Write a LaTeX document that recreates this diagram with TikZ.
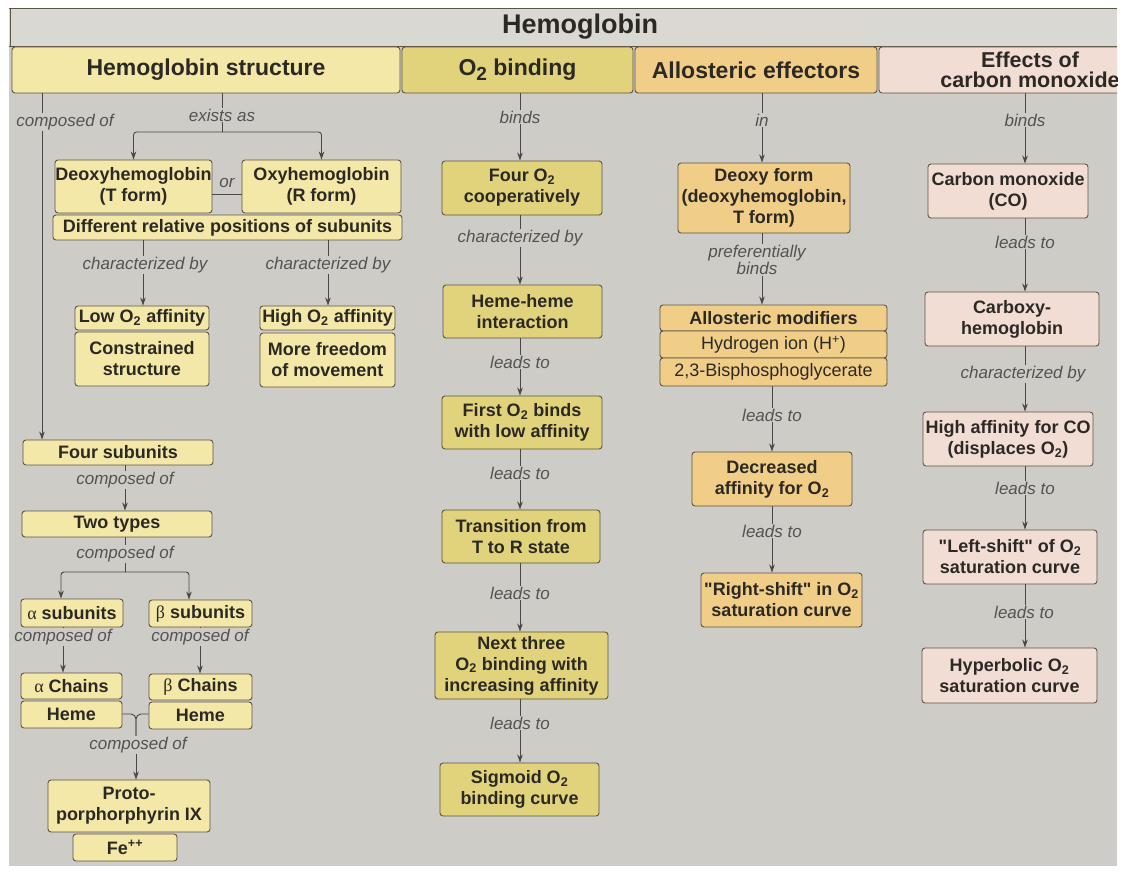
\documentclass[tikz,border=0pt]{standalone}
\usepackage{fontspec}
\setmainfont{Liberation Sans}[Ligatures=TeXOff]
\newfontfamily\grk{Liberation Serif}
\usetikzlibrary{arrows.meta}

\definecolor{panel}{HTML}{CECCC7}
\definecolor{titlebg}{HTML}{DAD8D3}
\definecolor{structc}{HTML}{F4E8A8}
\definecolor{bindc}{HTML}{E1D37B}
\definecolor{alloc}{HTML}{F1CE88}
\definecolor{coc}{HTML}{F2DDD4}
\definecolor{boxline}{HTML}{5C5444}
\definecolor{ink}{HTML}{2C2925}
\definecolor{linegray}{HTML}{4A4846}
\definecolor{lblgray}{HTML}{555350}

\tikzset{
  x=1pt, y=-1pt,
  box/.style={draw=boxline, line width=0.9pt, rounded corners=3pt, inner sep=0pt,
    align=center, text=ink, font=\bfseries\fontsize{18}{21}\selectfont},
  sbox/.style={box, fill=structc},
  obox/.style={box, fill=bindc},
  abox/.style={box, fill=alloc},
  cbox/.style={box, fill=coc},
  plaintext/.style={font=\fontsize{18}{21}\selectfont},
  hdr/.style={draw=boxline, line width=0.9pt, rounded corners=3pt, inner sep=0pt,
    align=center, text=ink, font=\bfseries\fontsize{23}{22}\selectfont, minimum height=46},
  lbl/.style={fill=panel, inner sep=1pt, text=lblgray, align=center,
    font=\itshape\fontsize{17}{17}\selectfont},
  link/.style={draw=linegray, line width=0.9pt},
  arr/.style={link, -{Stealth[length=8pt,width=5.5pt]}}
}

\newcommand{\Osub}{O\textsubscript{2}}

\begin{document}
\begin{tikzpicture}
\useasboundingbox (0,0) rectangle (1129,874);
\fill[white] (0,0) rectangle (1129,874);

\begin{scope}
\clip (9,8) rectangle (1117,866);
% panel and title band
\fill[panel] (9,8) rectangle (1117,866);
\fill[titlebg] (9,8) rectangle (1117,47);
\draw[boxline, line width=0.9pt] (9,8.5) -- (1117,8.5);
\draw[boxline, line width=0.9pt] (9,46.5) -- (1117,46.5);
\draw[boxline, line width=0.9pt] (10,8) -- (10,47);
\node[text=ink, font=\bfseries\fontsize{27}{27}\selectfont] (title) at (580,27) {Hemoglobin};

% column headers
\node[hdr, fill=structc, minimum width=388] (hstruct) at (206,70) {Hemoglobin structure};
\node[hdr, fill=bindc, minimum width=231] (hbind) at (517.5,70) {O{\raisebox{-0.22em}{\fontsize{19}{19}\selectfont 2}} binding};
\node[hdr, fill=alloc, minimum width=242] (hallo) at (756,70) {Allosteric effectors};
\node[hdr, fill=coc, minimum width=302, font=\bfseries\fontsize{21.5}{20.5}\selectfont] (hco) at (1030,70) {Effects of\\carbon monoxide};

% ---- hemoglobin structure ----
\node[sbox, minimum width=157, minimum height=53] (deoxy) at (133.5,186.5) {Deoxyhemoglobin\\(T form)};
\node[sbox, minimum width=159, minimum height=53] (oxy) at (321.5,186.5) {Oxyhemoglobin\\(R form)};
\node[sbox, minimum width=349, minimum height=25] (diffpos) at (227.5,227.5) {Different relative positions of subunits};
\node[sbox, minimum width=134, minimum height=24] (lowaff) at (142,318) {Low \Osub{} affinity};
\node[sbox, minimum width=134, minimum height=54] (constr) at (142,359) {Constrained\\structure};
\node[sbox, minimum width=135, minimum height=24] (highaff) at (327.5,318) {High \Osub{} affinity};
\node[sbox, minimum width=135, minimum height=54] (freedom) at (327.5,360) {More freedom\\of movement};
\node[sbox, minimum width=190, minimum height=25] (four) at (118,452.5) {Four subunits};
\node[sbox, minimum width=190, minimum height=26] (two) at (117,524) {Two types};
\node[sbox, minimum width=102, minimum height=28] (asub) at (72,613) {{\grk\mdseries α} subunits};
\node[sbox, minimum width=103, minimum height=27] (bsub) at (200.5,613.5) {{\grk\mdseries β} subunits};
\node[sbox, minimum width=101, minimum height=26] (achain) at (71.5,686) {{\grk\mdseries α} Chains};
\node[sbox, minimum width=101, minimum height=27] (lheme) at (71.5,714.5) {Heme};
\node[sbox, minimum width=103, minimum height=26] (bchain) at (200.5,687) {{\grk\mdseries β} Chains};
\node[sbox, minimum width=103, minimum height=27] (rheme) at (200.5,715.5) {Heme};
\node[sbox, minimum width=162, minimum height=52] (proto) at (129,806) {Proto-\\porphorphyrin IX};
\node[sbox, minimum width=104, minimum height=27] (fe) at (125,847.5) {Fe\textsuperscript{++}};

% ---- O2 binding ----
\node[obox, minimum width=160, minimum height=54] (fourO) at (522,188) {Four \Osub\\cooperatively};
\node[obox, minimum width=159, minimum height=53] (hemeheme) at (522.5,311.5) {Heme-heme\\interaction};
\node[obox, minimum width=160, minimum height=53] (firstO) at (522,422.5) {First \Osub{} binds\\with low affinity};
\node[obox, minimum width=158, minimum height=53] (trans) at (521,536.5) {Transition from\\T to R state};
\node[obox, minimum width=173, minimum height=67] (nextthree) at (521.5,665.5) {Next three\\\Osub{} binding with\\increasing affinity};
\node[obox, minimum width=159, minimum height=53] (sigmoid) at (519.5,789.5) {Sigmoid \Osub\\binding curve};

% ---- allosteric effectors ----
\node[abox, minimum width=172, minimum height=70] (deoxyf) at (764,198) {Deoxy form\\(deoxyhemoglobin,\\T form)};
\node[abox, minimum width=227, minimum height=26] (allomod) at (773.5,318) {Allosteric modifiers};
\node[abox, plaintext, minimum width=227, minimum height=27] (hion) at (773.5,344.5) {Hydrogen ion (H\textsuperscript{+})};
\node[abox, plaintext, minimum width=227, minimum height=28] (bpg) at (773.5,372) {2,3-Bisphosphoglycerate};
\node[abox, minimum width=160, minimum height=54] (decr) at (772,479) {Decreased\\affinity for \Osub};
\node[abox, minimum width=161, minimum height=54] (rshift) at (781.5,600) {"Right-shift" in \Osub\\saturation curve};

% ---- carbon monoxide ----
\node[cbox, minimum width=160, minimum height=54] (co) at (1008,191) {Carbon monoxide\\(CO)};
\node[cbox, minimum width=174, minimum height=54] (carboxy) at (1012,319) {Carboxy-\\hemoglobin};
\node[cbox, minimum width=170, minimum height=54] (highco) at (1008,439) {High affinity for CO\\(displaces \Osub)};
\node[cbox, minimum width=174, minimum height=54] (lshift) at (1010,557) {"Left-shift" of \Osub\\saturation curve};
\node[cbox, minimum width=175, minimum height=55] (hyper) at (1009.5,675.5) {Hyperbolic \Osub\\saturation curve};

% ---- connector guide positions ----
\coordinate (cL) at (42,0);
\coordinate (ex) at (222,132);
\coordinate (orln) at (0,194);
\coordinate (cA) at (143,0);
\coordinate (cB) at (328,0);
\coordinate (cT) at (125,0);
\coordinate (tb) at (125,572);
\coordinate (ta) at (61,0);
\coordinate (tbb) at (189,0);
\coordinate (ca) at (63,0);
\coordinate (cb) at (200,0);
\coordinate (hj) at (136,714);
\coordinate (hb) at (136,742);
\coordinate (cO) at (520,0);
\coordinate (ax) at (762,0);
\coordinate (ay) at (772,0);
\coordinate (cC) at (1025,0);

% ---- connectors: structure ----
\draw[arr] (hstruct.south -| cL) -- (four.north -| cL);
\draw[link] (hstruct.south -| ex) -- (ex);
\draw[arr, rounded corners=3] (ex) -| (deoxy.north);
\draw[arr, rounded corners=3] (ex) -| (oxy.north);
\draw[link] (deoxy.east |- orln) -- (oxy.west |- orln);
\draw[arr] (diffpos.south -| cA) -- (lowaff.north -| cA);
\draw[arr] (diffpos.south -| cB) -- (highaff.north -| cB);
\draw[arr] (four.south -| cT) -- (two.north -| cT);
\draw[link] (two.south -| tb) -- (tb);
\draw[arr, rounded corners=3] (tb) -| (asub.north -| ta);
\draw[arr, rounded corners=3] (tb) -| (bsub.north -| tbb);
\draw[arr] (asub.south -| ca) -- (achain.north -| ca);
\draw[arr] (bsub.south -| cb) -- (bchain.north -| cb);
\draw[link, rounded corners=5] (lheme.east |- hj) -- (hj) -- (hb);
\draw[link, rounded corners=5] (rheme.west |- hj) -- (hj) -- (hb);
\draw[arr] (hb) -- (proto.north -| hb);

% ---- connectors: O2 binding ----
\draw[arr] (hbind.south -| cO) -- (fourO.north -| cO);
\draw[arr] (fourO.south -| cO) -- (hemeheme.north -| cO);
\draw[arr] (hemeheme.south -| cO) -- (firstO.north -| cO);
\draw[arr] (firstO.south -| cO) -- (trans.north -| cO);
\draw[arr] (trans.south -| cO) -- (nextthree.north -| cO);
\draw[arr] (nextthree.south -| cO) -- (sigmoid.north -| cO);

% ---- connectors: allosteric effectors ----
\draw[arr] (hallo.south -| ax) -- (deoxyf.north -| ax);
\draw[arr] (deoxyf.south -| ax) -- (allomod.north -| ax);
\draw[arr] (bpg.south -| ay) -- (decr.north -| ay);
\draw[arr] (decr.south -| ay) -- (rshift.north -| ay);

% ---- connectors: carbon monoxide ----
\draw[arr] (hco.south -| cC) -- (co.north -| cC);
\draw[arr] (co.south -| cC) -- (carboxy.north -| cC);
\draw[arr] (carboxy.south -| cC) -- (highco.north -| cC);
\draw[arr] (highco.south -| cC) -- (lshift.north -| cC);
\draw[arr] (lshift.south -| cC) -- (hyper.north -| cC);

% ---- connector labels ----
\node[lbl] (l1) at (65,122) {composed of};
\node[lbl] (l2) at (222,115) {exists as};
\node[lbl, fill=none] (l3) at (227,183) {or};
\node[lbl] (l4) at (145,265) {characterized by};
\node[lbl] (l5) at (328,265) {characterized by};
\node[lbl] (l6) at (125,480) {composed of};
\node[lbl] (l7) at (125,554) {composed of};
\node[lbl] (l8) at (63,637) {composed of};
\node[lbl] (l9) at (200,637) {composed of};
\node[lbl] (l10) at (138,745) {composed of};

\node[lbl] (m1) at (520,117) {binds};
\node[lbl] (m2) at (520,238) {characterized by};
\node[lbl] (m3) at (520,362) {leads to};
\node[lbl] (m4) at (520,473) {leads to};
\node[lbl] (m5) at (520,593) {leads to};
\node[lbl] (m6) at (520,723) {leads to};

\node[lbl] (n1) at (762,120) {in};
\node[lbl] (n2) at (757,260) {preferentially\\binds};
\node[lbl] (n3) at (772,415) {leads to};
\node[lbl] (n4) at (772,531) {leads to};

\node[lbl] (p1) at (1025,120) {binds};
\node[lbl] (p2) at (1025,242) {leads to};
\node[lbl] (p3) at (1023,374) {characterized by};
\node[lbl] (p4) at (1025,488) {leads to};
\node[lbl] (p5) at (1024,612) {leads to};
\end{scope}
\end{tikzpicture}
\end{document}
